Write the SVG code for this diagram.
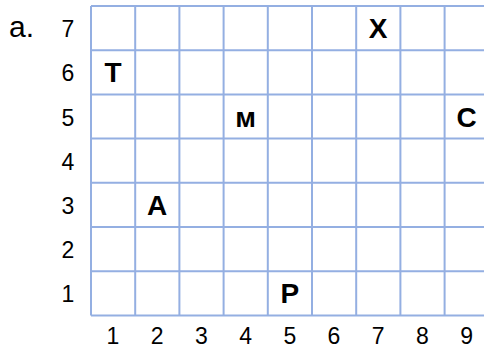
<svg xmlns="http://www.w3.org/2000/svg" width="484" height="350" viewBox="0 0 484 350">
<style>
.g{stroke:#94afe2;stroke-width:2;fill:none}
.n{font-family:"Liberation Sans",Arial,sans-serif;font-size:23px;fill:#000;text-anchor:middle}
.l{font-family:"Liberation Sans",Arial,sans-serif;font-size:28px;font-weight:bold;fill:#000;text-anchor:middle}
</style>
<rect width="484" height="350" fill="#fff"/>
<g id="grid" class="g">
<path d="M91 6V315.4M135.2 6V315.4M179.4 6V315.4M223.6 6V315.4M267.8 6V315.4M312 6V315.4M356.2 6V315.4M400.4 6V315.4M444.6 6V315.4M488.8 6V315.4"/>
<path d="M91 6H490M91 50.2H490M91 94.4H490M91 138.6H490M91 182.8H490M91 227H490M91 271.2H490M91 315.4H490"/>
</g>
<text x="9" y="37" font-family="Liberation Sans,Arial,sans-serif" font-size="30" fill="#000">a.</text>
<g id="rowlabels" class="n">
<text x="68" y="37">7</text>
<text x="68" y="81">6</text>
<text x="68" y="125.5">5</text>
<text x="68" y="169.5">4</text>
<text x="68" y="213.5">3</text>
<text x="68" y="258">2</text>
<text x="68" y="302">1</text>
</g>
<g id="collabels" class="n">
<text x="113" y="344">1</text>
<text x="157.2" y="344">2</text>
<text x="201.4" y="344">3</text>
<text x="245.6" y="344">4</text>
<text x="289.8" y="344">5</text>
<text x="334" y="344">6</text>
<text x="378.2" y="344">7</text>
<text x="422.4" y="344">8</text>
<text x="466.6" y="344">9</text>
</g>
<g id="letters" class="l">
<text id="T" x="113" y="82">Т</text>
<text id="X" x="378.2" y="38">Х</text>
<text id="M" x="245.6" y="126.5">м</text>
<text id="C" x="466.6" y="126.5">С</text>
<text id="A" x="157.2" y="214.5">А</text>
<text id="P" x="289.8" y="303">Р</text>
</g>
</svg>
